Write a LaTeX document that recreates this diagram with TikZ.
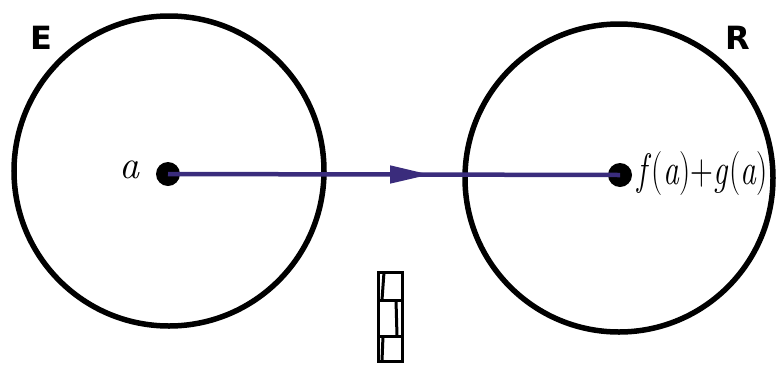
\documentclass[tikz,border=0pt]{standalone}
\usepackage{fontspec}
\newfontfamily\labfont{DejaVu Sans}
\usetikzlibrary{arrows.meta,decorations.markings}
\definecolor{arrowcol}{HTML}{3A2C7C}
\tikzset{
  setcirc/.style={draw=black,line width=5.5pt},
  ptdot/.style={circle,fill=black,inner sep=0pt,minimum size=24pt},
  setlab/.style={font=\labfont\bfseries\fontsize{32}{32}\selectfont,inner sep=0pt},
  maparrow/.style={draw=arrowcol,line width=4.5pt,
    postaction={decorate,decoration={markings,mark=at position 0.58 with {\arrow[arrowcol]{Triangle[length=40pt,width=17pt]}}}}},
  barline/.style={draw=black,line width=3pt}
}
\begin{document}
\begin{tikzpicture}[x=1pt,y=-1pt]
\useasboundingbox (0,0) rectangle (777,365);
\node[setcirc,circle,minimum size=310pt,inner sep=0pt] (E) at (169,171) {};
\node[setcirc,circle,minimum size=308pt,inner sep=0pt] (R) at (619,178) {};
\node[setlab] (Elab) at (41,38) {E};
\node[setlab] (Rlab) at (738,38) {R};
\node[ptdot] (a) at (168,174) {};
\node[ptdot] (fa) at (620,175) {};
\draw[maparrow] (a.center) -- (fa.center);
\node[inner sep=0pt,font=\fontsize{40}{40}\selectfont\itshape] (alab) at (129,170) {a};
\node[inner sep=0pt,font=\fontsize{44}{44}\selectfont,xscale=0.72,anchor=west] (flab) at (637,174) {\textit{f}\kern1pt(\textit{a})+\textit{g}\kern1pt(\textit{a})};
% small stacked bar
\coordinate (b1) at (378,272);
\coordinate (b2) at (402,361);
\draw[barline] (b1) rectangle (b2);
\draw[barline] (378,300) -- (402,300);
\draw[barline] (378,336) -- (402,336);
\draw[barline] (384,272) -- (382,300);
\draw[barline] (396,300) -- (397,336);
\draw[barline] (383,336) -- (382,361);
\end{tikzpicture}
\end{document}
